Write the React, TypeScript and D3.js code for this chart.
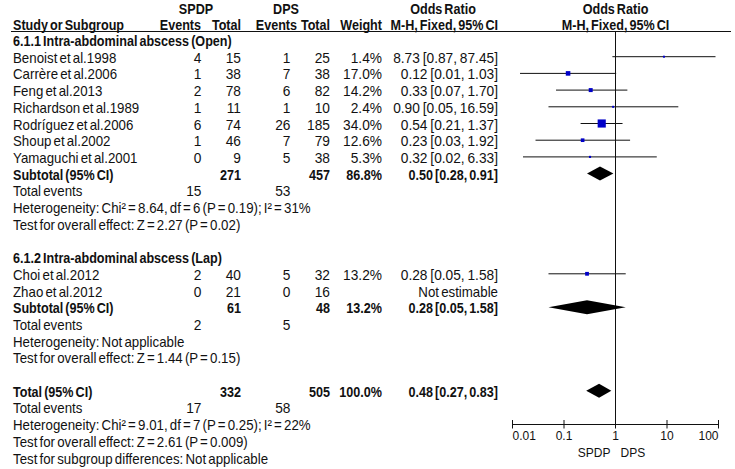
import React from "react";
import * as d3 from "d3";

// ---- data ----
const groupTitles = [
  "6.1.1 Intra-abdominal abscess (Open)",
  "6.1.2 Intra-abdominal abscess (Lap)",
];
const studyNames = [
  "Benoist et al.1998",
  "Carrère et al.2006",
  "Feng et al.2013",
  "Richardson et al.1989",
  "Rodríguez et al.2006",
  "Shoup et al.2002",
  "Yamaguchi et al.2001",
  "Choi et al.2012",
  "Zhao et al.2012",
];
const studyGroup = [0, 0, 0, 0, 0, 0, 0, 1, 1];
const spdpEvents = [4, 1, 2, 1, 6, 1, 0, 2, 0];
const spdpTotal = [15, 38, 78, 11, 74, 46, 9, 40, 21];
const dpsEvents = [1, 7, 6, 1, 26, 7, 5, 5, 0];
const dpsTotal = [25, 38, 82, 10, 185, 79, 38, 32, 16];
const studyWeight = [1.4, 17.0, 14.2, 2.4, 34.0, 12.6, 5.3, 13.2, null];
const studyOrText = [
  "8.73 [0.87, 87.45]",
  "0.12 [0.01, 1.03]",
  "0.33 [0.07, 1.70]",
  "0.90 [0.05, 16.59]",
  "0.54 [0.21, 1.37]",
  "0.23 [0.03, 1.92]",
  "0.32 [0.02, 6.33]",
  "0.28 [0.05, 1.58]",
  "Not estimable",
];
const studyOr = [8.73, 0.12, 0.33, 0.9, 0.54, 0.23, 0.32, 0.28, null];
const studyLo = [0.87, 0.014, 0.07, 0.05, 0.21, 0.028, 0.016, 0.05, null];
const studyHi = [87.45, 1.03, 1.7, 16.59, 1.37, 1.92, 6.33, 1.58, null];

const subTotalSpdp = [271, 61];
const subTotalDps = [457, 48];
const subWeight = ["86.8%", "13.2%"];
const subOrText = ["0.50 [0.28, 0.91]", "0.28 [0.05, 1.58]"];
const subOr = [0.5, 0.28];
const subLo = [0.28, 0.05];
const subHi = [0.91, 1.58];
const subEventsSpdp = [15, 2];
const subEventsDps = [53, 5];
const subHetero = [
  "Heterogeneity: Chi\u00b2 = 8.64, df = 6 (P = 0.19); I\u00b2 = 31%",
  "Heterogeneity: Not applicable",
];
const subTest = [
  "Test for overall effect: Z = 2.27 (P = 0.02)",
  "Test for overall effect: Z = 1.44 (P = 0.15)",
];

const totalSpdp = 332;
const totalDps = 505;
const totalWeight = "100.0%";
const totalOrText = "0.48 [0.27, 0.83]";
const totalOr = 0.48;
const totalLo = 0.27;
const totalHi = 0.83;
const totalEventsSpdp = 17;
const totalEventsDps = 58;
const totalFooter = [
  "Heterogeneity: Chi\u00b2 = 9.01, df = 7 (P = 0.25); I\u00b2 = 22%",
  "Test for overall effect: Z = 2.61 (P = 0.009)",
  "Test for subgroup differences: Not applicable",
];

const axisTicks = [0.01, 0.1, 1, 10, 100];
const axisTickLabels = ["0.01", "0.1", "1", "10", "100"];
const favourLeft = "SPDP";
const favourRight = "DPS";

// ---- layout ----
const W = 735;
const H = 469;
const FONT = "'Liberation Sans', Arial, Helvetica, sans-serif";
const baseY = (k: number) => 46 + 16.7 * k;
const markY = (k: number) => baseY(k) - 6;
const COL = {
  label: 13,
  spdpEv: 201.5,
  spdpTot: 241,
  dpsEv: 290.5,
  dpsTot: 330,
  weight: 382,
  or: 498,
};
const x = d3.scaleLog().domain([0.01, 100]).range([512.5, 718.5]);
const axisY = 424;

type Row =
  | { kind: "title"; text: string }
  | { kind: "study"; i: number }
  | { kind: "subtotal"; g: number }
  | { kind: "events"; a: number; b: number }
  | { kind: "note"; text: string }
  | { kind: "blank" }
  | { kind: "total" };

function buildRows(): Row[] {
  const rows: Row[] = [];
  groupTitles.forEach((t, g) => {
    rows.push({ kind: "title", text: t });
    studyNames.forEach((_, i) => {
      if (studyGroup[i] === g) rows.push({ kind: "study", i });
    });
    rows.push({ kind: "subtotal", g });
    rows.push({ kind: "events", a: subEventsSpdp[g], b: subEventsDps[g] });
    rows.push({ kind: "note", text: subHetero[g] });
    rows.push({ kind: "note", text: subTest[g] });
    rows.push({ kind: "blank" });
  });
  rows.push({ kind: "total" });
  rows.push({ kind: "events", a: totalEventsSpdp, b: totalEventsDps });
  totalFooter.forEach((t) => rows.push({ kind: "note", text: t }));
  return rows;
}

function T(props: {
  x: number;
  y: number;
  anchor?: "start" | "middle" | "end";
  bold?: boolean;
  num?: boolean;
  size?: number;
  children: React.ReactNode;
}) {
  const bold = !!props.bold;
  let sx = bold ? 0.9 : props.num ? 0.98 : 0.95;
  let ws = bold ? -1.6 : props.num ? -1 : -1.6;
  if (props.size && props.size < 14) {
    sx = 1;
    ws = 0;
  }
  return (
    <text
      transform={`translate(${props.x},${props.y}) scale(${sx},1)`}
      x={0}
      y={0}
      textAnchor={props.anchor || "start"}
      fontWeight={bold ? "bold" : "normal"}
      fontSize={props.size || 14}
      fontFamily={FONT}
      fill="#111"
      style={{ wordSpacing: `${ws}px` }}
    >
      {props.children}
    </text>
  );
}

function diamond(lo: number, est: number, hi: number, cy: number, h = 7) {
  return `M${x(lo)},${cy}L${x(est)},${cy - h}L${x(hi)},${cy}L${x(est)},${cy + h}Z`;
}

export default function App() {
  const rows = buildRows();
  const els: React.ReactNode[] = [];
  rows.forEach((r, k) => {
    const y = baseY(k);
    const my = markY(k);
    if (r.kind === "title") {
      els.push(<T key={`t${k}`} x={COL.label} y={y} bold>{r.text}</T>);
    } else if (r.kind === "study") {
      const i = r.i;
      els.push(
        <g key={`s${k}`}>
          <T x={COL.label} y={y}>{studyNames[i]}</T>
          <T x={COL.spdpEv} y={y} anchor="end" num>{spdpEvents[i]}</T>
          <T x={COL.spdpTot} y={y} anchor="end" num>{spdpTotal[i]}</T>
          <T x={COL.dpsEv} y={y} anchor="end" num>{dpsEvents[i]}</T>
          <T x={COL.dpsTot} y={y} anchor="end" num>{dpsTotal[i]}</T>
          {studyWeight[i] != null && (
            <T x={COL.weight} y={y} anchor="end" num>{(studyWeight[i] as number).toFixed(1) + "%"}</T>
          )}
          <T x={COL.or} y={y} anchor="end" num={studyOr[i] != null}>{studyOrText[i]}</T>
        </g>
      );
      if (studyOr[i] != null) {
        const w = studyWeight[i] as number;
        const s = Math.max(2, 1 + w * 0.21);
        els.push(
          <g key={`m${k}`}>
            <line
              x1={x(studyLo[i] as number)}
              x2={x(studyHi[i] as number)}
              y1={my}
              y2={my}
              stroke="#111"
              strokeWidth={1}
            />
            <rect
              x={x(studyOr[i] as number) - s / 2}
              y={my - s / 2}
              width={s}
              height={s}
              fill="#0000c8"
            />
          </g>
        );
      }
    } else if (r.kind === "subtotal") {
      const g = r.g;
      els.push(
        <g key={`st${k}`}>
          <T x={COL.label} y={y} bold>Subtotal (95% CI)</T>
          <T x={COL.spdpTot} y={y} anchor="end" bold>{subTotalSpdp[g]}</T>
          <T x={COL.dpsTot} y={y} anchor="end" bold>{subTotalDps[g]}</T>
          <T x={COL.weight} y={y} anchor="end" bold>{subWeight[g]}</T>
          <T x={COL.or} y={y} anchor="end" bold>{subOrText[g]}</T>
          <path d={diamond(subLo[g], subOr[g], subHi[g], my)} fill="#000" />
        </g>
      );
    } else if (r.kind === "events") {
      els.push(
        <g key={`e${k}`}>
          <T x={COL.label} y={y}>Total events</T>
          <T x={COL.spdpEv} y={y} anchor="end" num>{r.a}</T>
          <T x={COL.dpsEv} y={y} anchor="end" num>{r.b}</T>
        </g>
      );
    } else if (r.kind === "note") {
      els.push(<T key={`n${k}`} x={COL.label} y={y}>{r.text}</T>);
    } else if (r.kind === "total") {
      els.push(
        <g key={`tot${k}`}>
          <T x={COL.label} y={y} bold>Total (95% CI)</T>
          <T x={COL.spdpTot} y={y} anchor="end" bold>{totalSpdp}</T>
          <T x={COL.dpsTot} y={y} anchor="end" bold>{totalDps}</T>
          <T x={COL.weight} y={y} anchor="end" bold>{totalWeight}</T>
          <T x={COL.or} y={y} anchor="end" bold>{totalOrText}</T>
          <path d={diamond(totalLo, totalOr, totalHi, my)} fill="#000" />
        </g>
      );
    }
  });

  const x1 = x(1);
  return (
    <svg
      width={W}
      height={H}
      style={{ position: "absolute", left: 0, top: 0, background: "#fff" }}
    >
      <rect width={W} height={H} fill="#fff" />
      {/* header */}
      <T x={196} y={13.5} anchor="middle" bold>SPDP</T>
      <T x={286} y={13.5} anchor="middle" bold>DPS</T>
      <T x={443} y={13.5} anchor="middle" bold>Odds Ratio</T>
      <T x={x1} y={13.5} anchor="middle" bold>Odds Ratio</T>
      <T x={COL.label} y={30} bold>Study or Subgroup</T>
      <T x={201} y={30} anchor="end" bold>Events</T>
      <T x={241} y={30} anchor="end" bold>Total</T>
      <T x={297} y={30} anchor="end" bold>Events</T>
      <T x={330} y={30} anchor="end" bold>Total</T>
      <T x={382} y={30} anchor="end" bold>Weight</T>
      <T x={498} y={30} anchor="end" bold>M-H, Fixed, 95% CI</T>
      <T x={x1} y={30} anchor="middle" bold>M-H, Fixed, 95% CI</T>
      <line x1={11} x2={731} y1={31.5} y2={31.5} stroke="#111" strokeWidth={1} />
      {/* null line */}
      <line x1={x1} x2={x1} y1={31.5} y2={axisY} stroke="#111" strokeWidth={1} />
      {els}
      {/* axis */}
      <line x1={x(0.01)} x2={x(100)} y1={axisY + 0.5} y2={axisY + 0.5} stroke="#111" strokeWidth={1} />
      {axisTicks.map((t, i) => (
        <g key={`tick${i}`}>
          <line x1={x(t)} x2={x(t)} y1={axisY - 4} y2={axisY + 4.5} stroke="#111" strokeWidth={1} />
          <T
            x={x(t)}
            y={440}
            size={12}
            anchor={i === 0 ? "start" : i === axisTicks.length - 1 ? "end" : "middle"}
          >
            {axisTickLabels[i]}
          </T>
        </g>
      ))}
      <T x={x1 - 5} y={457} size={12} anchor="end">{favourLeft}</T>
      <T x={x1 + 5} y={457} size={12} anchor="start">{favourRight}</T>
    </svg>
  );
}
